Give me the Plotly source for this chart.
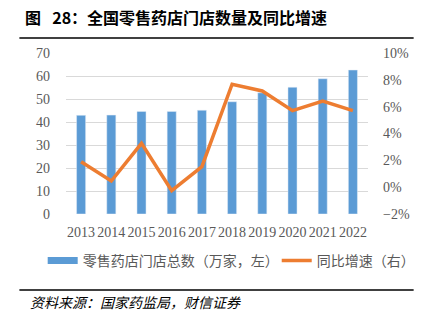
import plotly.graph_objects as go

years = ["2013", "2014", "2015", "2016", "2017", "2018", "2019", "2020", "2021", "2022"]
stores = [42.9, 43.0, 44.6, 44.6, 45.1, 48.8, 52.7, 55.1, 58.8, 62.6]
growth = [1.9, 0.46, 3.27, -0.26, 1.53, 7.67, 7.17, 5.7, 6.42, 5.7]

bar_name = "零售药店门店总数（万家，左）"
line_name = "同比增速（右）"
title_text = "<b>图\u2002\u200928：全国零售药店门店数量及同比增速</b>"
source_text = "资料来源：国家药监局，财信证券"

serif = "Liberation Serif, Times New Roman, serif"
cjk = "Noto Sans CJK SC"
BLUE = "#5B9BD5"
ORANGE = "#ED7D31"
GREY = "#595959"

fig = go.Figure()
fig.add_trace(go.Bar(x=years, y=stores, name=bar_name, marker_color=BLUE,
                     width=0.3, yaxis="y", showlegend=False))
# legend-only entry for the bars, drawn with a wide flat swatch like the original
fig.add_trace(go.Scatter(x=[None], y=[None], name=bar_name, mode="lines",
                         line=dict(color=BLUE, width=7), yaxis="y2",
                         showlegend=True, legend="legend", hoverinfo="skip"))
fig.add_trace(go.Scatter(x=years, y=growth, name=line_name, mode="lines",
                         line=dict(color=ORANGE, width=3.5), yaxis="y2",
                         legend="legend2"))

legend_common = dict(orientation="h", xanchor="left", y=(214 - 261) / 161, yanchor="middle",
                     font=dict(family=cjk, size=14, color=GREY),
                     itemwidth=30, bgcolor="rgba(0,0,0,0)")

fig.update_layout(
    width=432, height=321,
    margin=dict(l=66, r=55, t=53, b=107),
    paper_bgcolor="white", plot_bgcolor="white",
    showlegend=True,
    legend=dict(x=(42 - 66) / 311, **legend_common),
    legend2=dict(x=(283 - 66) / 311, **legend_common),
    xaxis=dict(type="category", tickfont=dict(family=serif, size=14, color=GREY),
               showgrid=False, zeroline=False, showline=False, ticks="",
               ticklabelstandoff=8),
    yaxis=dict(range=[0, 70], dtick=10, tickfont=dict(family=serif, size=14, color=GREY),
               showgrid=True, gridcolor="#d9d9d9", gridwidth=1, zeroline=False,
               ticklabelstandoff=15),
    yaxis2=dict(range=[-2, 10], dtick=2, overlaying="y", side="right", ticksuffix="%",
                tickfont=dict(family=serif, size=14, color=GREY),
                showgrid=False, zeroline=False, ticklabelstandoff=14),
    font=dict(family=cjk),
)

fig.add_annotation(text=title_text, xref="paper", yref="paper",
                   x=(22 - 66) / 311, y=(214 - 17) / 161, xanchor="left", yanchor="middle",
                   showarrow=False, font=dict(family=cjk, size=16, color="#000000"))
fig.add_annotation(text=source_text, xref="paper", yref="paper",
                   x=(27 - 66) / 311, y=(214 - 302) / 161, xanchor="left", yanchor="middle",
                   showarrow=False, font=dict(family=cjk, size=14, color="#000000", style="italic"))

fig.add_shape(type="line", xref="paper", yref="paper",
              x0=(18 - 66) / 311, x1=(424 - 66) / 311, y0=(214 - 38) / 161, y1=(214 - 38) / 161,
              line=dict(color="black", width=1.5))
fig.add_shape(type="line", xref="paper", yref="paper",
              x0=(18 - 66) / 311, x1=(424 - 66) / 311, y0=(214 - 290) / 161, y1=(214 - 290) / 161,
              line=dict(color="black", width=1.5))

fig.write_html("out.html")
